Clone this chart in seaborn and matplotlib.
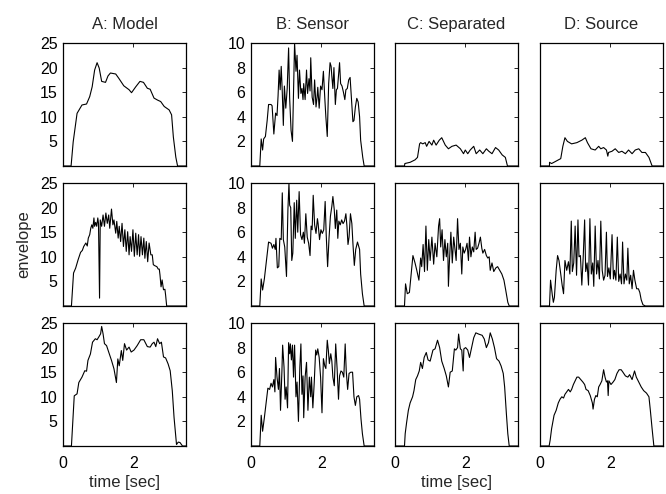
import seaborn as sns
import matplotlib.pyplot as plt
import numpy as np

# Envelopes (time in sec, envelope values)

# Row 1
a1_t = [0, 0.23, 0.29, 0.4, 0.54, 0.67, 0.76, 0.83, 0.9, 0.97, 1.03, 1.1, 1.21, 1.28, 1.35, 1.5, 1.59,
        1.73, 1.88, 1.95, 2.07, 2.19, 2.29, 2.4, 2.48, 2.59, 2.69, 2.78, 2.88, 3.02, 3.09, 3.14, 3.21, 3.26, 3.5]
a1_v = [0, 0, 4.9, 10.7, 12.4, 12.6, 14.1, 16.1, 19.5, 21.0, 19.9, 17.2, 17.0, 18.3, 18.9, 18.7, 17.8,
        16.3, 15.5, 14.9, 16.1, 17.2, 17.0, 15.8, 15.6, 13.8, 13.4, 13.1, 12.1, 11.4, 10.4, 5.9, 1.8, 0, 0]

b1_t = [0, 0.25, 0.29, 0.33, 0.36, 0.41, 0.46, 0.5, 0.57, 0.6, 0.65, 0.7, 0.74, 0.77, 0.8, 0.83, 0.86,
        0.89, 0.92, 0.95, 0.99, 1.03, 1.07, 1.1, 1.14, 1.18, 1.24, 1.28, 1.31, 1.35, 1.38, 1.42, 1.45,
        1.48, 1.5, 1.54, 1.58, 1.61, 1.65, 1.68, 1.7, 1.74, 1.78, 1.81, 1.85, 1.88, 1.9, 1.94, 1.98, 2.02,
        2.06, 2.1, 2.13, 2.17, 2.21, 2.25, 2.28, 2.3, 2.33, 2.36, 2.4, 2.43, 2.46, 2.5, 2.52, 2.55, 2.59,
        2.63, 2.67, 2.7, 2.74, 2.78, 2.82, 2.86, 2.9, 2.93, 2.97, 3.01, 3.05, 3.09, 3.12, 3.18, 3.22, 3.5]
b1_v = [0, 0, 2.2, 1.3, 2.2, 2.4, 3.7, 5.0, 5.0, 4.9, 2.6, 4.3, 4.1, 5.7, 7.8, 6.2, 8.1,
        6.0, 3.3, 6.5, 4.7, 6.3, 9.6, 5.5, 2.9, 2.0, 10.0, 7.7, 9.0, 5.5, 7.8, 5.9, 6.3,
        5.4, 6.7, 5.4, 7.8, 5.9, 7.1, 6.1, 8.8, 5.6, 5.0, 7.0, 4.8, 5.6, 6.4, 4.7, 6.5, 6.2,
        7.7, 5.5, 4.0, 2.4, 6.7, 8.4, 8.1, 7.3, 6.3, 8.0, 5.0, 6.2, 6.3, 7.7, 8.4, 6.7, 6.5,
        6.0, 5.4, 6.2, 6.3, 7.0, 7.2, 5.4, 3.6, 3.7, 4.8, 5.5, 5.2, 4.0, 2.1, 0.7, 0, 0]

c1_t = [0, 0.27, 0.28, 0.43, 0.57, 0.64, 0.7, 0.73, 0.79, 0.86, 0.9, 0.97, 1.05, 1.1, 1.17, 1.26, 1.33,
        1.43, 1.52, 1.62, 1.74, 1.86, 1.95, 2.0, 2.07, 2.14, 2.24, 2.31, 2.41, 2.5, 2.6, 2.67, 2.76,
        2.86, 2.95, 3.05, 3.14, 3.2, 3.5]
c1_v = [0, 0, 0.2, 0.3, 0.5, 0.7, 1.8, 1.9, 1.8, 1.9, 1.6, 2.0, 1.7, 2.1, 1.7, 2.1, 2.3,
        1.7, 1.4, 1.6, 1.7, 1.4, 1.0, 1.3, 1.0, 1.3, 1.6, 1.0, 1.3, 1.0, 1.4, 1.2, 1.0,
        1.5, 1.3, 0.9, 0.7, 0, 0]

d1_t = [0, 0.27, 0.271, 0.33, 0.46, 0.59, 0.65, 0.71, 0.78, 0.9, 1.05, 1.19, 1.29, 1.35, 1.45, 1.57,
        1.67, 1.73, 1.81, 1.89, 1.93, 1.95, 2.05, 2.14, 2.24, 2.33, 2.43, 2.52, 2.62, 2.71, 2.81, 2.9,
        3.0, 3.1, 3.19, 3.5]
d1_v = [0, 0, 0.3, 0.2, 0.4, 0.6, 1.6, 2.3, 2.0, 1.8, 1.9, 2.1, 2.3, 1.9, 1.4, 1.3,
        1.6, 1.4, 1.5, 1.3, 0.8, 1.1, 1.2, 1.4, 1.1, 1.2, 1.0, 1.3, 1.0, 1.3, 1.4, 1.1,
        1.1, 0.7, 0, 0]

# Row 2
a2_t = [0, 0.24, 0.3, 0.36, 0.43, 0.5, 0.55, 0.59, 0.65, 0.69, 0.72, 0.76, 0.79, 0.82, 0.85, 0.88, 0.9,
        0.93, 0.96, 0.99, 1.01, 1.04, 1.06, 1.1, 1.14, 1.18, 1.22, 1.26, 1.3, 1.33, 1.38, 1.42, 1.45,
        1.5, 1.53, 1.57, 1.6, 1.64, 1.68, 1.72, 1.76, 1.8, 1.84, 1.88, 1.91, 1.95, 1.99, 2.03, 2.07,
        2.11, 2.15, 2.18, 2.22, 2.26, 2.3, 2.33, 2.37, 2.41, 2.45, 2.5, 2.54, 2.57, 2.61, 2.67, 2.71,
        2.74, 2.76, 2.79, 2.82, 2.86, 2.9, 2.92, 2.95, 3.5]
a2_v = [0, 0, 6.7, 7.7, 9.4, 10.9, 11.3, 12.1, 12.8, 12.2, 13.8, 14.5, 15.8, 16.5, 15.8, 17.9, 16.2,
        17.0, 16.2, 17.9, 16.8, 1.6, 17.5, 16.2, 18.5, 16.2, 18.9, 16.8, 18.5, 15.8, 19.7, 16.5, 17.5,
        14.8, 17.2, 13.8, 16.2, 13.1, 16.8, 12.1, 15.5, 11.1, 15.1, 10.4, 14.1, 11.1, 15.5, 10.1, 14.8,
        10.4, 14.5, 10.1, 14.1, 10.4, 13.8, 9.7, 13.1, 9.0, 12.8, 10.4, 10.4, 8.4, 8.2, 8.0, 7.5,
        7.5, 6.3, 3.9, 5.3, 3.3, 3.4, 2.2, 0, 0]

b2_t = [0, 0.25, 0.29, 0.33, 0.38, 0.44, 0.5, 0.57, 0.61, 0.65, 0.69, 0.71, 0.75, 0.79, 0.82, 0.86, 0.89,
        0.92, 0.96, 1.01, 1.05, 1.08, 1.1, 1.13, 1.16, 1.19, 1.23, 1.26, 1.3, 1.33, 1.37, 1.41, 1.45,
        1.49, 1.52, 1.56, 1.6, 1.64, 1.68, 1.71, 1.74, 1.77, 1.81, 1.85, 1.89, 1.91, 1.95, 1.99, 2.03,
        2.07, 2.11, 2.14, 2.18, 2.22, 2.26, 2.3, 2.33, 2.37, 2.4, 2.44, 2.47, 2.5, 2.54, 2.58, 2.62,
        2.66, 2.7, 2.73, 2.76, 2.79, 2.83, 2.87, 2.9, 2.94, 2.98, 3.03, 3.09, 3.12, 3.17, 3.22, 3.5]
b2_v = [0, 0, 2.2, 1.3, 2.2, 3.7, 5.2, 5.1, 4.7, 5.0, 4.6, 5.5, 3.1, 3.2, 5.5, 5.4, 9.2,
        5.4, 4.8, 2.4, 7.8, 10.0, 8.2, 8.0, 3.7, 4.3, 8.4, 5.5, 8.6, 6.0, 9.3, 5.8, 5.4,
        6.0, 5.1, 7.5, 5.6, 5.1, 4.1, 6.5, 6.2, 9.0, 6.6, 5.9, 7.1, 6.7, 5.4, 6.2, 5.9,
        6.2, 8.5, 5.8, 3.2, 5.5, 7.3, 8.1, 8.9, 7.8, 6.3, 7.8, 5.5, 6.9, 6.6, 7.0, 6.7,
        6.9, 7.5, 6.5, 5.0, 5.6, 7.5, 6.7, 5.1, 3.3, 4.6, 5.2, 4.6, 2.6, 1.0, 0, 0]

c2_t = [0, 0.27, 0.3, 0.35, 0.41, 0.47, 0.51, 0.57, 0.62, 0.68, 0.73, 0.76, 0.8, 0.84, 0.88, 0.92, 0.96,
        1.0, 1.05, 1.1, 1.14, 1.19, 1.24, 1.27, 1.3, 1.34, 1.38, 1.42, 1.46, 1.5, 1.52, 1.55, 1.59,
        1.63, 1.67, 1.7, 1.74, 1.78, 1.82, 1.86, 1.9, 1.93, 1.97, 2.01, 2.05, 2.09, 2.12, 2.16, 2.2,
        2.24, 2.28, 2.31, 2.35, 2.39, 2.43, 2.47, 2.5, 2.55, 2.6, 2.64, 2.68, 2.71, 2.76, 2.81, 2.87,
        2.92, 2.98, 3.04, 3.1, 3.15, 3.21, 3.25, 3.5]
c2_v = [0, 0, 1.8, 1.0, 1.1, 2.9, 4.1, 3.5, 2.9, 2.1, 3.9, 3.2, 5.0, 2.8, 6.5, 2.9, 5.4,
        3.7, 5.6, 3.4, 5.1, 4.0, 6.5, 7.1, 4.8, 6.2, 3.7, 5.4, 4.0, 5.1, 1.6, 3.7, 6.0,
        3.5, 5.6, 4.8, 3.7, 7.1, 4.6, 5.1, 2.6, 4.8, 4.3, 4.6, 5.1, 3.7, 5.6, 4.0, 4.8,
        4.4, 6.0, 4.6, 4.7, 5.1, 5.6, 4.7, 4.3, 4.6, 4.1, 3.9, 4.0, 2.9, 3.5, 2.8, 3.1,
        3.2, 2.9, 2.6, 2.1, 1.3, 0.3, 0, 0]

d2_t = [0, 0.27, 0.3, 0.35, 0.38, 0.41, 0.46, 0.5, 0.54, 0.59, 0.63, 0.67, 0.71, 0.76, 0.81, 0.85, 0.89,
        0.92, 0.96, 1.0, 1.04, 1.08, 1.11, 1.15, 1.19, 1.23, 1.27, 1.3, 1.34, 1.38, 1.42, 1.46, 1.5,
        1.53, 1.57, 1.61, 1.65, 1.69, 1.73, 1.77, 1.81, 1.85, 1.89, 1.92, 1.96, 2.0, 2.05, 2.09, 2.12,
        2.16, 2.2, 2.24, 2.28, 2.32, 2.35, 2.39, 2.43, 2.47, 2.5, 2.54, 2.58, 2.62, 2.66, 2.7, 2.75,
        2.8, 2.84, 2.88, 2.93, 3.0, 3.5]
d2_v = [0, 0, 2.1, 0.9, 0.3, 0.7, 2.9, 4.1, 3.7, 2.6, 1.7, 1.0, 3.7, 2.9, 3.6, 2.6, 6.9,
        2.8, 3.5, 6.5, 2.5, 7.0, 4.0, 4.1, 1.7, 4.0, 7.0, 2.8, 3.5, 1.7, 7.1, 2.6, 3.5,
        1.6, 6.5, 2.6, 3.7, 2.2, 6.9, 2.9, 2.1, 2.5, 6.0, 2.4, 3.1, 2.2, 5.8, 2.2, 2.9,
        2.1, 5.6, 2.0, 2.6, 1.8, 5.2, 1.8, 2.6, 2.1, 4.7, 1.8, 2.5, 1.4, 2.9, 2.1, 1.4,
        1.4, 1.1, 0.5, 0.1, 0, 0]

# Row 3
a3_t = [0, 0.24, 0.32, 0.4, 0.45, 0.54, 0.62, 0.67, 0.71, 0.78, 0.84, 0.92, 0.97, 1.03, 1.07, 1.1, 1.14,
        1.18, 1.24, 1.3, 1.38, 1.45, 1.52, 1.56, 1.6, 1.66, 1.7, 1.75, 1.81, 1.88, 1.94, 2.02, 2.11,
        2.21, 2.3, 2.4, 2.48, 2.54, 2.59, 2.64, 2.69, 2.75, 2.8, 2.86, 2.92, 2.99, 3.05, 3.11, 3.16,
        3.23, 3.28, 3.33, 3.4, 3.5]
a3_v = [0, 0, 10.2, 10.6, 12.9, 14.0, 15.3, 15.2, 17.4, 18.7, 21.1, 21.8, 21.6, 22.3, 22.8, 24.3, 22.8,
        20.8, 20.4, 19.1, 17.4, 15.7, 12.9, 17.7, 16.3, 19.4, 17.4, 20.8, 19.5, 20.1, 19.1, 19.5, 20.4,
        21.6, 21.6, 20.2, 20.1, 20.8, 21.1, 20.2, 21.8, 20.8, 21.1, 18.1, 17.9, 16.7, 15.3, 11.2, 5.8,
        0.3, 0.8, 0.7, 0, 0]

b3_t = [0, 0.25, 0.29, 0.33, 0.38, 0.43, 0.48, 0.53, 0.57, 0.61, 0.65, 0.68, 0.7, 0.74, 0.78, 0.81, 0.84,
        0.88, 0.9, 0.94, 0.97, 1.0, 1.04, 1.07, 1.1, 1.12, 1.15, 1.18, 1.21, 1.24, 1.28, 1.31, 1.35,
        1.39, 1.42, 1.45, 1.48, 1.5, 1.54, 1.58, 1.62, 1.66, 1.7, 1.72, 1.76, 1.8, 1.84, 1.87, 1.9,
        1.94, 1.98, 2.02, 2.06, 2.1, 2.13, 2.17, 2.2, 2.23, 2.27, 2.3, 2.33, 2.37, 2.41, 2.45, 2.49,
        2.52, 2.56, 2.6, 2.64, 2.68, 2.71, 2.75, 2.79, 2.84, 2.89, 2.93, 2.97, 3.01, 3.06, 3.09, 3.13,
        3.17, 3.22, 3.5]
b3_v = [0, 0, 2.5, 1.2, 2.3, 3.5, 4.7, 4.6, 5.1, 4.8, 5.4, 4.4, 7.2, 5.6, 4.6, 6.3, 2.9,
        6.1, 8.2, 6.4, 3.8, 4.8, 3.1, 8.4, 7.5, 8.3, 7.0, 8.2, 5.6, 8.2, 4.0, 5.2, 2.0,
        6.4, 8.3, 4.2, 5.7, 2.3, 5.6, 6.8, 2.9, 5.6, 4.0, 5.6, 3.1, 5.2, 7.8, 7.4, 7.9,
        7.2, 5.6, 2.7, 7.1, 6.5, 6.3, 8.6, 7.8, 6.7, 7.5, 6.9, 5.6, 4.9, 8.3, 6.3, 3.8,
        5.7, 6.1, 6.0, 5.6, 8.3, 6.1, 4.6, 5.9, 6.0, 6.0, 4.0, 3.3, 4.0, 4.1, 3.8, 2.2,
        1.0, 0, 0]

c3_t = [0, 0.27, 0.29, 0.33, 0.38, 0.43, 0.5, 0.54, 0.59, 0.64, 0.69, 0.73, 0.78, 0.83, 0.89, 0.94, 1.0,
        1.08, 1.14, 1.21, 1.27, 1.33, 1.4, 1.46, 1.52, 1.57, 1.63, 1.69, 1.73, 1.78, 1.81, 1.86, 1.9,
        1.94, 1.96, 2.01, 2.07, 2.12, 2.18, 2.24, 2.3, 2.38, 2.48, 2.54, 2.6, 2.66, 2.71, 2.77, 2.83,
        2.89, 2.96, 3.02, 3.08, 3.12, 3.17, 3.21, 3.25, 3.5]
c3_v = [0, 0, 1.0, 1.9, 2.9, 3.5, 4.0, 4.5, 5.4, 5.7, 6.1, 6.8, 6.3, 7.2, 7.6, 7.0, 6.9,
        7.8, 7.9, 8.6, 8.0, 6.9, 6.3, 5.7, 4.8, 6.0, 6.1, 7.9, 7.8, 8.0, 9.1, 7.9, 7.8,
        6.1, 7.9, 8.0, 7.8, 7.2, 8.0, 8.8, 9.2, 9.1, 9.0, 8.7, 8.0, 8.4, 9.2, 8.7, 8.0,
        7.1, 6.9, 6.5, 5.9, 4.8, 2.6, 1.0, 0, 0]

d3_t = [0, 0.26, 0.29, 0.33, 0.4, 0.46, 0.52, 0.57, 0.62, 0.67, 0.71, 0.76, 0.81, 0.86, 0.9, 0.95, 1.0,
        1.05, 1.1, 1.16, 1.22, 1.27, 1.31, 1.37, 1.43, 1.49, 1.51, 1.55, 1.59, 1.63, 1.67, 1.71, 1.76,
        1.81, 1.85, 1.89, 1.92, 1.94, 1.96, 2.02, 2.08, 2.13, 2.19, 2.25, 2.31, 2.36, 2.43, 2.5, 2.55,
        2.62, 2.69, 2.74, 2.81, 2.88, 2.95, 3.03, 3.1, 3.14, 3.19, 3.24, 3.5]
d3_v = [0, 0, 0.5, 1.4, 2.5, 2.9, 3.5, 3.8, 4.0, 3.9, 4.2, 4.4, 4.6, 4.4, 4.6, 5.0, 5.3,
        5.6, 5.6, 5.4, 5.2, 5.0, 4.6, 4.5, 4.1, 3.5, 3.0, 3.8, 4.1, 4.0, 4.8, 5.0, 5.3,
        6.2, 5.6, 5.2, 5.3, 4.1, 5.3, 5.0, 5.2, 5.4, 5.9, 6.2, 6.2, 6.0, 5.7, 5.6, 5.8,
        5.4, 6.1, 5.6, 5.2, 4.8, 4.5, 4.3, 4.0, 2.9, 1.4, 0, 0]

titles = ['A: Model', 'B: Sensor', 'C: Separated', 'D: Source']
panels = [[(a1_t, a1_v), (b1_t, b1_v), (c1_t, c1_v), (d1_t, d1_v)],
          [(a2_t, a2_v), (b2_t, b2_v), (c2_t, c2_v), (d2_t, d2_v)],
          [(a3_t, a3_v), (b3_t, b3_v), (c3_t, c3_v), (d3_t, d3_v)]]

sns.set_style('white')
plt.rcParams['font.family'] = ['Liberation Sans', 'DejaVu Sans']

W, H = 666, 494
fig = plt.figure(figsize=(W / 100, H / 100), dpi=100)

lefts = [63, 251, 395, 540]
bottoms = [166, 306, 446]
size = 123

for r in range(3):
    for c in range(4):
        ax = fig.add_axes([lefts[c] / W, (H - bottoms[r]) / H, size / W, size / H])
        t, v = panels[r][c]
        sns.lineplot(x=np.array(t), y=np.array(v), ax=ax, color='black',
                     linewidth=0.8, estimator=None, sort=False)
        ax.set_xlim(0, 3.5)
        ax.set_xticks([0, 2])
        if c == 0:
            ax.set_ylim(0, 25)
            ax.set_yticks([5, 10, 15, 20, 25])
        else:
            ax.set_ylim(0, 10)
            ax.set_yticks([2, 4, 6, 8, 10])
        if c >= 2:
            ax.set_yticklabels([])
        if r < 2:
            ax.set_xticklabels([])
        ax.tick_params(direction='in', length=3, width=0.6, top=True, right=True,
                       labelsize=11.5, colors='black')
        ax.tick_params(axis='x', pad=7)
        ax.tick_params(axis='y', pad=4)
        for s in ax.spines.values():
            s.set_color('black')
            s.set_linewidth(0.9)
        if r == 0:
            ax.set_title(titles[c], fontsize=12, pad=10)
        if r == 1 and c == 0:
            ax.set_ylabel('envelope', fontsize=12, labelpad=6)
        if r == 2 and c in (0, 2):
            ax.set_xlabel('time [sec]', fontsize=12, labelpad=3)

fig.savefig('out.png', dpi=100)
